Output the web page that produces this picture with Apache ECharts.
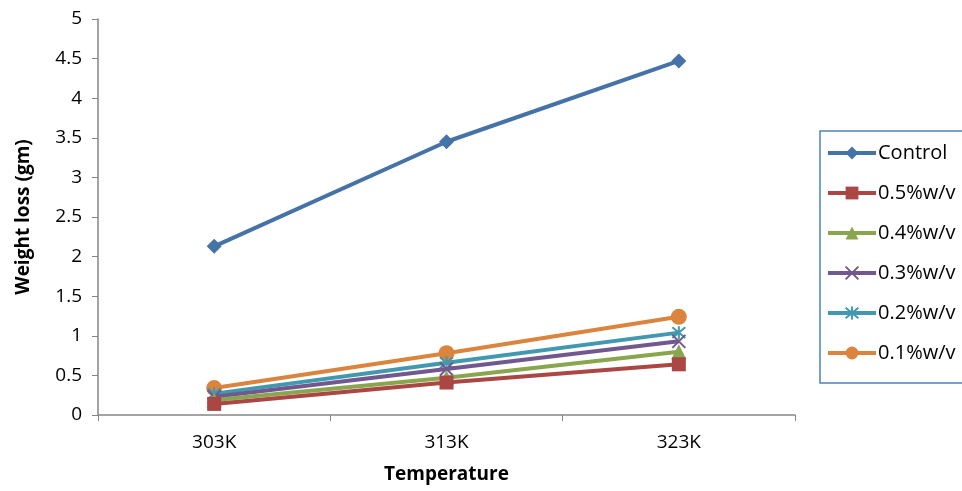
<!DOCTYPE html>
<html><head><meta charset="utf-8">
<script src="https://cdn.jsdelivr.net/npm/echarts@6/dist/echarts.min.js"></script>
<style>html,body{margin:0;padding:0;background:#fff}#c{width:962px;height:491px}</style>
</head><body><div id="c"></div>
<script>
const categories = ['303K', '313K', '323K'];
const seriesNames = ['Control', '0.5%w/v', '0.4%w/v', '0.3%w/v', '0.2%w/v', '0.1%w/v'];
const control = [2.13, 3.45, 4.47];
const w05 = [0.14, 0.41, 0.64];
const w04 = [0.19, 0.47, 0.80];
const w03 = [0.23, 0.58, 0.93];
const w02 = [0.27, 0.66, 1.04];
const w01 = [0.34, 0.78, 1.24];
const yTicks = { min: 0, max: 5, interval: 0.5 };

const colors = ['#4572A7', '#AA4643', '#89A54E', '#71588F', '#4198AF', '#DB843D'];
const symbols = ['diamond', 'rect', 'triangle',
  'path://M0,0L10,10M10,0L0,10',
  'path://M0,0L10,10M10,0L0,10M5,-1L5,11',
  'circle'];
const sizes = [15, 14, 15, 13, 13, 16];
const data = [control, w05, w04, w03, w02, w01];
const font = '"Open Sans", sans-serif';

const chart = echarts.init(document.getElementById('c'));
chart.setOption({
  animation: false,
  grid: { left: 98, right: 167, top: 19, bottom: 76 },
  xAxis: {
    type: 'category', data: categories, boundaryGap: true,
    name: 'Temperature', nameLocation: 'middle', nameGap: 50,
    nameTextStyle: { fontFamily: font, fontWeight: 'bold', fontSize: 19, color: '#000' },
    axisLine: { lineStyle: { color: '#868686', width: 1.5 } },
    axisTick: { show: true, length: 6, alignWithLabel: false, lineStyle: { color: '#868686' } },
    axisLabel: { fontFamily: font, fontSize: 19, color: '#000', margin: 18 }
  },
  yAxis: {
    type: 'value', min: yTicks.min, max: yTicks.max, interval: yTicks.interval,
    name: 'Weight loss (gm)', nameLocation: 'middle', nameGap: 65, nameRotate: 90,
    nameTextStyle: { fontFamily: font, fontWeight: 'bold', fontSize: 19, color: '#000' },
    axisLine: { show: true, lineStyle: { color: '#868686', width: 1.5 } },
    axisTick: { show: true, length: 6, lineStyle: { color: '#868686' } },
    splitLine: { show: false },
    axisLabel: { fontFamily: font, fontSize: 19, color: '#000', margin: 16 }
  },
  legend: {
    orient: 'vertical', left: 820, top: 131,
    width: 170,
    padding: [12, 40, 20, 6],
    borderColor: '#4F81BD', borderWidth: 1.5,
    itemWidth: 48, itemHeight: 16, itemGap: 20,
    lineStyle: { width: 4 },
    textStyle: { fontFamily: font, fontSize: 20, color: '#000', lineHeight: 16, padding: [0, 0, 0, -3] },
    data: seriesNames
  },
  series: seriesNames.map((n, i) => ({
    name: n, type: 'line', data: data[i],
    symbol: symbols[i], symbolSize: sizes[i], showSymbol: true,
    lineStyle: { color: colors[i], width: 4 },
    itemStyle: { color: colors[i], borderColor: colors[i], borderWidth: (i === 3 || i === 4) ? 2 : 0 },
    z: 2 + (5 - i)
  }))
});
</script></body></html>
